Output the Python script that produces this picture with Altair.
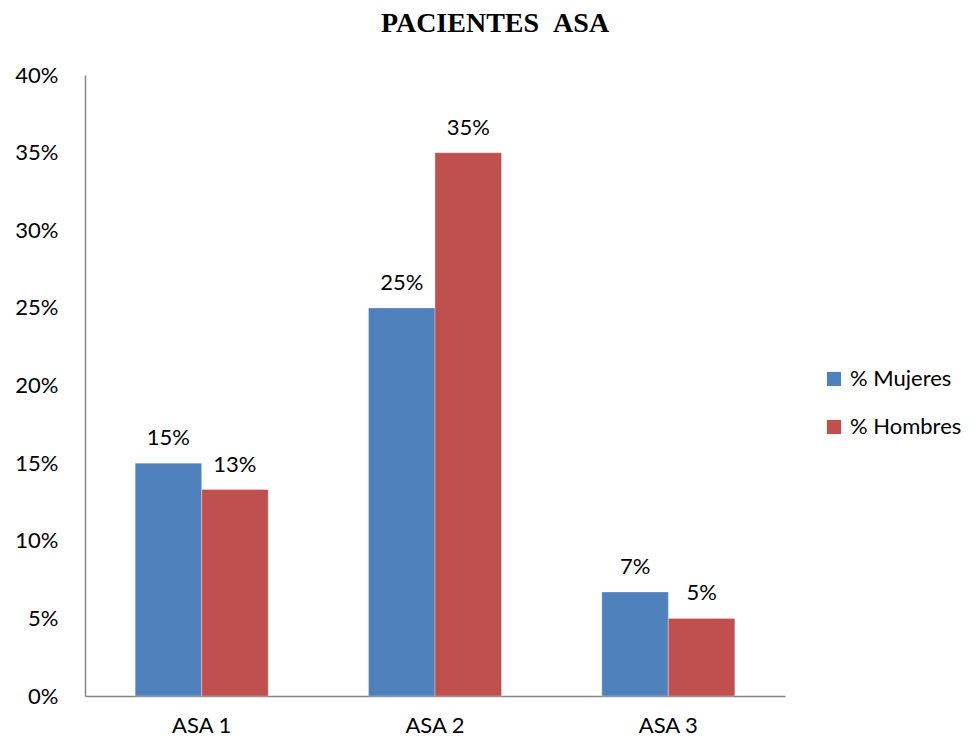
import altair as alt
import pandas as pd

categories = ["ASA 1", "ASA 2", "ASA 3"]
mujeres = [15.0, 25.0, 6.7]
hombres = [13.3, 35.0, 5.0]
series = ["% Mujeres", "% Hombres"]
colors = ["#4F81BD", "#C0504D"]

rows = []
for c, m, h in zip(categories, mujeres, hombres):
    rows.append({"cat": c, "serie": series[0], "val": m / 100, "lab": f"{round(m):.0f}%"})
    rows.append({"cat": c, "serie": series[1], "val": h / 100, "lab": f"{round(h):.0f}%"})
df = pd.DataFrame(rows)

FONT = "Lato"
FS = 22

x = alt.X("cat:N", title=None, sort=categories,
          scale=alt.Scale(paddingInner=0.43, paddingOuter=0.215),
          axis=alt.Axis(labelAngle=0, labelFontSize=FS, labelFont=FONT, labelColor="#000000",
                        ticks=False, domainColor="#868686", domainWidth=1.5, labelPadding=19))
y = alt.Y("val:Q", title=None,
          scale=alt.Scale(domain=[0, 0.4], nice=False),
          axis=alt.Axis(format=".0%", values=[0, 0.05, 0.1, 0.15, 0.2, 0.25, 0.3, 0.35, 0.4],
                        grid=False, ticks=False, labelFontSize=FS, labelFont=FONT,
                        labelColor="#000000", domainColor="#868686", domainWidth=1.5,
                        labelPadding=27))
xo = alt.XOffset("serie:N", sort=series)
color = alt.Color("serie:N", sort=series,
                  scale=alt.Scale(domain=series, range=colors),
                  legend=alt.Legend(title=None, orient="none", legendX=738, legendY=293,
                                    symbolType="square", symbolSize=200, symbolStrokeWidth=0,
                                    labelFontSize=FS, labelFont=FONT, labelColor="#000000",
                                    rowPadding=26, symbolOffset=0, labelOffset=5))

bars = alt.Chart(df).mark_bar(stroke="#ffffff", strokeWidth=0.6, strokeOpacity=0.5).encode(
    x=x, xOffset=xo, y=y, color=color)

text = alt.Chart(df).mark_text(baseline="bottom", dy=-13, fontSize=FS, font=FONT, color="#000000").encode(
    x=alt.X("cat:N", sort=categories), xOffset=alt.XOffset("serie:N", sort=series),
    y="val:Q", text="lab:N")

chart = alt.layer(bars, text).properties(
    width=700, height=621,
    title=alt.TitleParams("PACIENTES\u00a0\u00a0ASA", font="Times New Roman", fontSize=28, fontWeight="bold",
                          color="#000000", anchor="middle", dx=60, offset=26),
    autosize=alt.AutoSizeParams(type="none"),
    padding={"left": 85, "top": 75, "right": 195, "bottom": 46},
).configure(background="#ffffff").configure_view(stroke=None, strokeWidth=0)

chart.save("out.html", embed_options={"renderer": "svg", "actions": False})
